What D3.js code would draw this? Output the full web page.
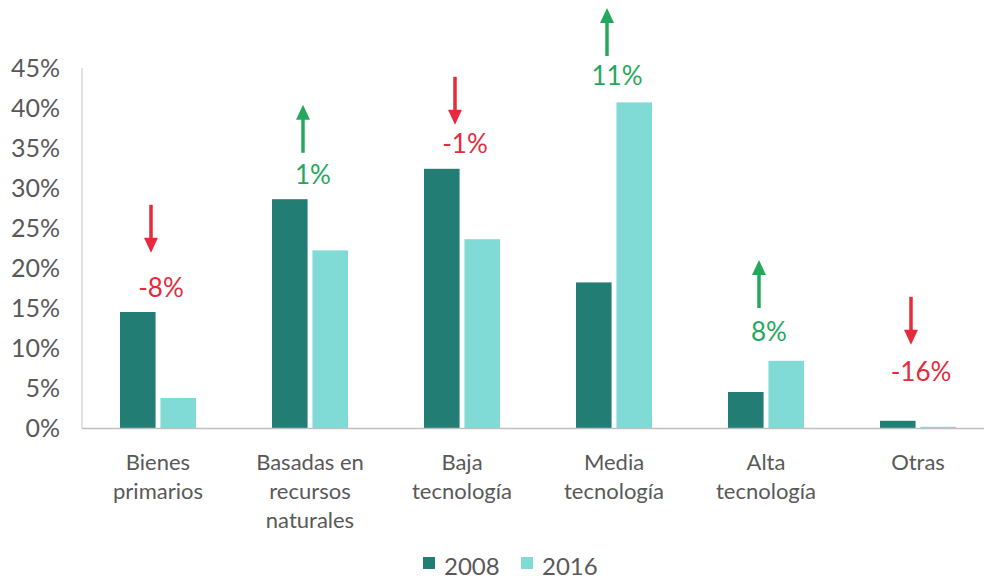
<!DOCTYPE html>
<html>
<head>
<meta charset="utf-8">
<script src="https://cdn.jsdelivr.net/npm/d3@7"></script>
<style>
  body { margin: 0; background: #fff; }
  svg text { font-family: Lato, "Open Sans", sans-serif; fill: #595959; }
</style>
</head>
<body>
<svg id="main"></svg>
<script>
var categories = [
  ["Bienes", "primarios"],
  ["Basadas en", "recursos", "naturales"],
  ["Baja", "tecnología"],
  ["Media", "tecnología"],
  ["Alta", "tecnología"],
  ["Otras"]
];
var years = ["2008", "2016"];
var values2008 = [14.5, 28.6, 32.4, 18.2, 4.5, 0.9];
var values2016 = [3.75, 22.2, 23.6, 40.7, 8.4, 0.15];
var changes = ["-8%", "1%", "-1%", "11%", "8%", "-16%"];
var labelLevel = [17.6, 31.7, 35.6, 44.1, 12, 7];   // where the change label sits, in % units
var arrowTop = [27.9, 40.4, 43.9, 52.5, 21, 16.4];
var yTicks = [0, 5, 10, 15, 20, 25, 30, 35, 40, 45];

var chart = {
  width: 984,
  height: 580,
  left: 82,
  bottom: 428,
  top: 68
}

var colors = { "2008": "#227d74", "2016": "#80dad6" };
var up = "#25a85c", down = "#e52b3c";

var svg = d3.select("#main")
  .attr("width", chart.width)
  .attr("height", chart.height)

var y = d3.scaleLinear()
  .domain([0, 45])
  .range([chart.bottom, chart.top])

var x0 = d3.scaleBand()
  .domain(d3.range(categories.length))
  .range([chart.left, chart.left + 152 * 6])

var x1 = d3.scaleBand()
  .domain(years)
  .range([38, 38 + 76])
  .paddingInner(0.12)

// y axis labels + line
svg.append("line")
  .attr("x1", chart.left).attr("x2", chart.left)
  .attr("y1", chart.top).attr("y2", chart.bottom)
  .attr("stroke", "#d9d9d9").attr("stroke-width", 1.5)

svg.selectAll(".ytick")
  .data(yTicks)
  .enter().append("text")
  .attr("class", "ytick")
  .attr("x", 60)
  .attr("y", function(d) { return y(d) })
  .attr("dy", "0.36em")
  .attr("text-anchor", "end")
  .style("font-size", "25px")
  .text(function(d) { return d + "%" })

// bars
var groups = svg.selectAll(".grp")
  .data(categories)
  .enter().append("g")
  .attr("transform", function(d, i) { return "translate(" + x0(i) + ",0)" })

groups.each(function(d, i) {
  var vals = [values2008[i], values2016[i]];
  d3.select(this).selectAll("rect")
    .data(vals)
    .enter().append("rect")
    .attr("x", function(v, j) { return x1(years[j]) })
    .attr("width", x1.bandwidth())
    .attr("y", function(v) { return y(v) })
    .attr("height", function(v) { return chart.bottom - y(v) })
    .attr("fill", function(v, j) { return colors[years[j]] })
})

// baseline
svg.append("line")
  .attr("x1", chart.left).attr("x2", chart.width)
  .attr("y1", chart.bottom + 0.5).attr("y2", chart.bottom + 0.5)
  .attr("stroke", "#bfbfbf").attr("stroke-width", 1.5)

// category labels
groups.each(function(d, i) {
  var t = d3.select(this).append("text")
    .attr("text-anchor", "middle")
    .attr("x", x0.bandwidth() / 2)
    .attr("y", 470)
    .style("font-size", "22px")
  d.forEach(function(line, k) {
    t.append("tspan")
      .attr("x", x0.bandwidth() / 2)
      .attr("y", 470 + k * 29)
      .text(line)
  })
})

// change annotations
changes.forEach(function(c, i) {
  var isDown = c.charAt(0) == "-";
  var col = isDown ? down : up;
  var cx = x0(i) + x0.bandwidth() / 2;
  svg.append("text")
    .attr("x", cx + 3)
    .attr("y", y(labelLevel[i]))
    .attr("dy", "0.36em")
    .attr("text-anchor", "middle")
    .style("font-size", "26px")
    .style("fill", col)
    .text(c)

  var ax = cx - 7, yt = y(arrowTop[i]), yb = yt + 48;
  var tip = isDown ? yb : yt;
  var dir = isDown ? -1 : 1;
  svg.append("line")
    .attr("x1", ax).attr("x2", ax)
    .attr("y1", isDown ? yt : yt + 10)
    .attr("y2", isDown ? yb - 10 : yb)
    .attr("stroke", col).attr("stroke-width", 3.5)
  svg.append("path")
    .attr("d", "M" + (ax - 7) + "," + (tip + dir * 15) + "L" + ax + "," + tip + "L" + (ax + 7) + "," + (tip + dir * 15) + "Z")
    .attr("fill", col)
})

// legend
var legend = svg.selectAll(".leg")
  .data(years)
  .enter().append("g")
  .attr("transform", function(d, i) { return "translate(" + (423 + i * 98) + ",557)" })

legend.append("rect")
  .attr("width", 12).attr("height", 12)
  .attr("fill", function(d) { return colors[d] })

legend.append("text")
  .attr("x", 21).attr("y", 18)
  .style("font-size", "24px")
  .text(function(d) { return d })
</script>
</body>
</html>
